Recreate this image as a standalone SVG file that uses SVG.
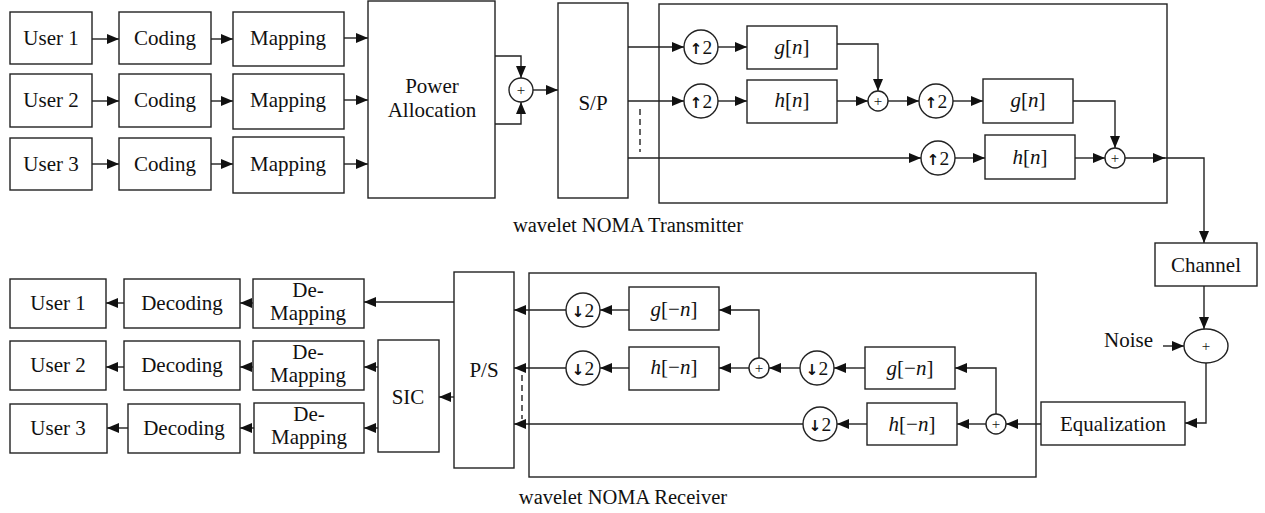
<svg xmlns="http://www.w3.org/2000/svg" width="1265" height="513" viewBox="0 0 1265 513">
<style>
rect,circle,ellipse{fill:#fff;stroke:#222;stroke-width:1.4}
.f{fill:none}
.c path,.c line,.c polyline{fill:none;stroke:#222;stroke-width:1.4}
.a{marker-end:url(#ah)}
.d{stroke-dasharray:6 4}
text{font-family:"Liberation Serif",serif;font-size:21px;fill:#111;text-anchor:middle}
.i{font-style:italic}
.s{font-size:19.5px}
.ar{font-family:"DejaVu Sans",sans-serif;font-size:15px;font-weight:bold}
.p{font-size:15px}
</style>
<defs>
<marker id="ah" markerUnits="userSpaceOnUse" markerWidth="12" markerHeight="10" refX="12" refY="5" orient="auto"><path d="M0,0 L12,5 L0,10 z" fill="#111"/></marker>
</defs>
<g id="connectors" class="c">
<line class="a" x1="92" y1="39" x2="119" y2="39"/>
<line class="a" x1="211" y1="39" x2="233" y2="39"/>
<line class="a" x1="344" y1="38" x2="368" y2="38"/>
<line class="a" x1="92" y1="101" x2="119" y2="101"/>
<line class="a" x1="211" y1="101" x2="233" y2="101"/>
<line class="a" x1="344" y1="100" x2="368" y2="100"/>
<line class="a" x1="92" y1="164" x2="119" y2="164"/>
<line class="a" x1="211" y1="164" x2="233" y2="164"/>
<line class="a" x1="344" y1="164" x2="368" y2="164"/>
<polyline class="a" points="495,56 521,56 521,78"/>
<polyline class="a" points="495,124 521,124 521,102"/>
<line class="a" x1="533" y1="90" x2="558" y2="90"/>
<line class="a" x1="628" y1="47" x2="684" y2="47"/>
<line class="a" x1="718" y1="47" x2="747" y2="47"/>
<line class="a" x1="628" y1="101" x2="684" y2="101"/>
<line class="a" x1="718" y1="101" x2="747" y2="101"/>
<polyline class="a" points="837,44 878,44 878,91"/>
<line class="a" x1="837" y1="101" x2="868" y2="101"/>
<line class="a" x1="888" y1="101" x2="919" y2="101"/>
<line class="a" x1="953" y1="101" x2="983" y2="101"/>
<polyline class="a" points="1073,101 1115,101 1115,148"/>
<line class="a" x1="628" y1="158" x2="921" y2="158"/>
<line class="a" x1="955" y1="158" x2="985" y2="158"/>
<line class="a" x1="1075" y1="158" x2="1105" y2="158"/>
<line class="a" x1="1125" y1="158" x2="1165" y2="158"/>
<polyline class="a" points="1163,158 1204,158 1204,243"/>
<line class="d" x1="640" y1="109" x2="640" y2="152"/>
<line class="a" x1="1204" y1="286" x2="1204" y2="329"/>
<line class="a" x1="1163" y1="346" x2="1184" y2="346"/>
<polyline class="a" points="1206,363 1206,423 1185,423"/>
<line class="a" x1="1041" y1="424" x2="1006" y2="424"/>
<line class="a" x1="986" y1="424" x2="957" y2="424"/>
<polyline class="a" points="996,414 996,368 955,368"/>
<line class="a" x1="865" y1="368" x2="834" y2="368"/>
<line class="a" x1="800" y1="368" x2="769" y2="368"/>
<polyline class="a" points="759,358 759,310 719,310"/>
<line class="a" x1="749" y1="368" x2="719" y2="368"/>
<line class="a" x1="629" y1="368" x2="600" y2="368"/>
<line class="a" x1="566" y1="368" x2="514" y2="368"/>
<line class="a" x1="629" y1="310" x2="600" y2="310"/>
<line class="a" x1="566" y1="310" x2="514" y2="310"/>
<line class="a" x1="867" y1="424" x2="837" y2="424"/>
<line class="a" x1="803" y1="424" x2="514" y2="424"/>
<line class="d" x1="522" y1="375" x2="522" y2="419"/>
<line class="a" x1="454" y1="302" x2="364" y2="302"/>
<line class="a" x1="454" y1="397" x2="439" y2="397"/>
<line class="a" x1="378" y1="367" x2="364" y2="367"/>
<line class="a" x1="378" y1="428" x2="364" y2="428"/>
<line class="a" x1="253" y1="303" x2="240" y2="303"/>
<line class="a" x1="124" y1="303" x2="106" y2="303"/>
<line class="a" x1="253" y1="367" x2="240" y2="367"/>
<line class="a" x1="124" y1="367" x2="106" y2="367"/>
<line class="a" x1="254" y1="428" x2="240" y2="428"/>
<line class="a" x1="128" y1="428" x2="107" y2="428"/>
</g>
<g id="tx-frame"><rect class="f" x="659" y="4" width="508" height="199"/></g>
<g id="rx-frame"><rect class="f" x="529" y="273" width="507" height="204"/></g>
<g id="user1-tx"><rect x="10" y="12" width="82" height="52"/><text x="51" y="45">User 1</text></g>
<g id="coding1"><rect x="119" y="12" width="92" height="52"/><text x="165" y="45">Coding</text></g>
<g id="mapping1"><rect x="233" y="12" width="111" height="54"/><text x="288" y="45">Mapping</text></g>
<g id="user2-tx"><rect x="10" y="74" width="82" height="53"/><text x="51" y="107">User 2</text></g>
<g id="coding2"><rect x="119" y="74" width="92" height="53"/><text x="165" y="107">Coding</text></g>
<g id="mapping2"><rect x="233" y="74" width="111" height="55"/><text x="288" y="107">Mapping</text></g>
<g id="user3-tx"><rect x="10" y="138" width="82" height="52"/><text x="51" y="171">User 3</text></g>
<g id="coding3"><rect x="119" y="138" width="92" height="52"/><text x="165" y="171">Coding</text></g>
<g id="mapping3"><rect x="233" y="137" width="111" height="56"/><text x="288" y="171">Mapping</text></g>
<g id="power-allocation"><rect x="368" y="1" width="127" height="197"/><text x="432" y="93">Power</text><text x="432" y="117">Allocation</text></g>
<g id="sum-tx"><circle cx="521" cy="90" r="12"/><text class="p" x="521" y="95">+</text></g>
<g id="sp"><rect x="558" y="3" width="70" height="195"/><text x="593" y="110">S/P</text></g>
<g id="up1"><circle cx="701" cy="47" r="17"/><text class="s" x="701" y="54"><tspan class="ar">↑</tspan>2</text></g>
<g id="up2"><circle cx="701" cy="101" r="17"/><text class="s" x="701" y="108"><tspan class="ar">↑</tspan>2</text></g>
<g id="g1"><rect x="747" y="26" width="90" height="43"/><text x="792" y="54"><tspan class="i">g</tspan>[<tspan class="i">n</tspan>]</text></g>
<g id="h1"><rect x="747" y="80" width="90" height="43"/><text x="792" y="107"><tspan class="i">h</tspan>[<tspan class="i">n</tspan>]</text></g>
<g id="add-tx1"><circle cx="878" cy="101" r="10"/><text class="p" x="878" y="106">+</text></g>
<g id="up3"><circle cx="936" cy="101" r="17"/><text class="s" x="936" y="108"><tspan class="ar">↑</tspan>2</text></g>
<g id="g2"><rect x="983" y="79" width="90" height="44"/><text x="1028" y="107"><tspan class="i">g</tspan>[<tspan class="i">n</tspan>]</text></g>
<g id="up4"><circle cx="938" cy="158" r="17"/><text class="s" x="938" y="165"><tspan class="ar">↑</tspan>2</text></g>
<g id="h2"><rect x="985" y="135" width="90" height="44"/><text x="1030" y="164"><tspan class="i">h</tspan>[<tspan class="i">n</tspan>]</text></g>
<g id="add-tx2"><circle cx="1115" cy="158" r="10"/><text class="p" x="1115" y="163">+</text></g>
<g id="tx-label"><text x="628" y="232" style="font-size:20.5px">wavelet NOMA Transmitter</text></g>
<g id="channel"><rect x="1155" y="243" width="102" height="43"/><text x="1206" y="272">Channel</text></g>
<g id="noise-sum"><ellipse cx="1206" cy="346" rx="22" ry="17"/><text class="p" x="1206" y="351">+</text></g>
<g id="noise"><text x="1153" y="347" style="text-anchor:end">Noise</text></g>
<g id="equalization"><rect x="1041" y="402" width="144" height="43"/><text x="1113" y="431">Equalization</text></g>
<g id="add-rx1"><circle cx="996" cy="424" r="10"/><text class="p" x="996" y="429">+</text></g>
<g id="hm2"><rect x="867" y="403" width="90" height="42"/><text x="912" y="431"><tspan class="i">h</tspan>[−<tspan class="i">n</tspan>]</text></g>
<g id="gm2"><rect x="865" y="347" width="90" height="42"/><text x="910" y="375"><tspan class="i">g</tspan>[−<tspan class="i">n</tspan>]</text></g>
<g id="down3"><circle cx="817" cy="368" r="17"/><text class="s" x="817" y="375"><tspan class="ar">↓</tspan>2</text></g>
<g id="down4"><circle cx="820" cy="424" r="17"/><text class="s" x="820" y="431"><tspan class="ar">↓</tspan>2</text></g>
<g id="add-rx2"><circle cx="759" cy="368" r="10"/><text class="p" x="759" y="373">+</text></g>
<g id="gm1"><rect x="629" y="287" width="90" height="43"/><text x="674" y="316"><tspan class="i">g</tspan>[−<tspan class="i">n</tspan>]</text></g>
<g id="hm1"><rect x="629" y="347" width="90" height="43"/><text x="674" y="374"><tspan class="i">h</tspan>[−<tspan class="i">n</tspan>]</text></g>
<g id="down1"><circle cx="583" cy="310" r="17"/><text class="s" x="583" y="317"><tspan class="ar">↓</tspan>2</text></g>
<g id="down2"><circle cx="583" cy="368" r="17"/><text class="s" x="583" y="375"><tspan class="ar">↓</tspan>2</text></g>
<g id="ps"><rect x="454" y="272" width="60" height="196"/><text x="484" y="377">P/S</text></g>
<g id="sic"><rect x="378" y="340" width="61" height="112"/><text x="408" y="404">SIC</text></g>
<g id="demap1"><rect x="253" y="279" width="111" height="49"/><text x="308" y="297">De-</text><text x="308" y="320">Mapping</text></g>
<g id="demap2"><rect x="253" y="341" width="111" height="49"/><text x="308" y="359">De-</text><text x="308" y="382">Mapping</text></g>
<g id="demap3"><rect x="254" y="403" width="110" height="50"/><text x="309" y="421">De-</text><text x="309" y="444">Mapping</text></g>
<g id="decoding1"><rect x="124" y="279" width="116" height="49"/><text x="182" y="310">Decoding</text></g>
<g id="decoding2"><rect x="124" y="341" width="116" height="49"/><text x="182" y="372">Decoding</text></g>
<g id="decoding3"><rect x="128" y="404" width="112" height="49"/><text x="184" y="435">Decoding</text></g>
<g id="user1-rx"><rect x="10" y="279" width="96" height="49"/><text x="58" y="310">User 1</text></g>
<g id="user2-rx"><rect x="10" y="341" width="96" height="49"/><text x="58" y="372">User 2</text></g>
<g id="user3-rx"><rect x="10" y="404" width="97" height="49"/><text x="58" y="435">User 3</text></g>
<g id="rx-label"><text x="623" y="504" style="font-size:20.5px">wavelet NOMA Receiver</text></g>
</svg>
